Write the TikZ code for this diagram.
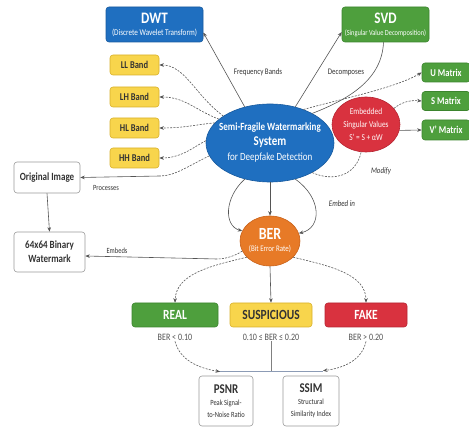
\documentclass[tikz,border=0pt]{standalone}
\usepackage{fontspec}
% narrow, tall lettering
\setmainfont{Carlito}[FakeStretch=0.82]
\usetikzlibrary{arrows.meta,shapes.geometric,calc}

\definecolor{dwtblue}{HTML}{1F6FC0}
\definecolor{dwtedge}{HTML}{175A9E}
\definecolor{svdgreen}{HTML}{4E9F3D}
\definecolor{svdedge}{HTML}{3C842E}
\definecolor{bandyellow}{HTML}{F8D54C}
\definecolor{bandedge}{HTML}{D8B02A}
\definecolor{fakered}{HTML}{D9323F}
\definecolor{fakeedge}{HTML}{B52532}
\definecolor{berorange}{HTML}{E77A27}
\definecolor{beredge}{HTML}{C9621A}
\definecolor{linegray}{HTML}{555555}
\definecolor{bracketgray}{HTML}{8C9BB5}
\definecolor{boxgray}{HTML}{9A9A9A}
\definecolor{textdark}{HTML}{333333}

\begin{document}
\begin{tikzpicture}[x=1pt,y=-1pt,
  box/.style={draw, rounded corners=3pt, line width=0.6pt, inner sep=0pt, align=center},
  bluebox/.style={box, fill=dwtblue, draw=dwtedge, text=white},
  greenbox/.style={box, fill=svdgreen, draw=svdedge, text=white},
  bandbox/.style={box, fill=bandyellow, draw=bandedge, text=textdark,
    font=\fontsize{10.4}{12}\selectfont\bfseries, minimum width=49pt, minimum height=20pt},
  matbox/.style={greenbox, font=\fontsize{10.4}{12}\selectfont\bfseries,
    minimum width=48pt, minimum height=19pt},
  plainbox/.style={box, fill=white, draw=boxgray, text=textdark},
  verdict/.style={box, minimum width=84pt, minimum height=24pt, text=white,
    font=\fontsize{14}{16}\selectfont\bfseries},
  blob/.style={ellipse, line width=0.6pt, inner sep=0pt},
  blobtext/.style={text=white, align=center, inner sep=0pt},
  plainline/.style={draw=linegray, line width=0.6pt},
  dashline/.style={plainline, dash pattern=on 2pt off 1.3pt},
  solidarr/.style={plainline, -{Stealth[length=4.5pt,width=3.6pt]}},
  dasharr/.style={solidarr, dash pattern=on 2pt off 1.3pt},
  elabel/.style={font=\fontsize{8.5}{10}\selectfont, text=textdark, inner sep=0pt},
  thresh/.style={font=\fontsize{9.8}{11}\selectfont, text=textdark!85, inner sep=1pt}
]
\useasboundingbox (0,0) rectangle (469,427);

% ---- top transforms ----
\node[bluebox, minimum width=97pt, minimum height=35pt] (dwt) at (154.5,24.5)
  {{\fontsize{16}{17}\selectfont\bfseries DWT}\\{\fontsize{8.8}{10}\selectfont (Discrete Wavelet Transform)}};
\node[greenbox, minimum width=87pt, minimum height=35pt] (svd) at (385.5,24.5)
  {{\fontsize{16}{17}\selectfont\bfseries SVD}\\{\fontsize{7.8}{10}\selectfont (Singular Value Decomposition)}};

% ---- wavelet sub-bands ----
\node[bandbox] (ll) at (134.5,65) {LL Band};
\node[bandbox] (lh) at (134.5,97) {LH Band};
\node[bandbox] (hl) at (134.5,128) {HL Band};
\node[bandbox] (hh) at (134.5,158) {HH Band};

% ---- input side ----
\node[plainbox, minimum width=66pt, minimum height=31pt,
  font=\fontsize{11}{13}\selectfont\bfseries] (orig) at (47,177.5) {Original Image};
\node[plainbox, minimum width=71pt, minimum height=40pt,
  font=\fontsize{11}{14}\selectfont\bfseries] (wm) at (49.5,252) {64x64 Binary\\Watermark};

% ---- central system ----
\node[blob, fill=dwtblue, draw=dwtedge, minimum width=128pt, minimum height=78pt] (sys) at (270,143) {};
\node[blobtext, font=\fontsize{11}{15}\selectfont] (systxt) at (sys.center)
  {{\bfseries Semi-Fragile Watermarking}\\{\fontsize{13.4}{15}\selectfont\bfseries System}\\for Deepfake Detection};

% ---- embedding in singular values ----
\node[blob, fill=fakered, draw=fakeedge, minimum width=68pt, minimum height=55pt] (emb) at (366,124.5) {};
\node[blobtext, text=white!92!pink, font=\fontsize{9}{13}\selectfont] (embtxt) at (emb.center)
  {Embedded\\Singular Values\\S' = S + αW};

\node[matbox] (um) at (446,72.5) {U Matrix};
\node[matbox] (sm) at (446,101) {S Matrix};
\node[matbox, minimum height=20pt] (vm) at (446,130) {V' Matrix};

% ---- bit error rate ----
\node[blob, fill=berorange, draw=beredge, minimum width=60pt, minimum height=50pt] (ber) at (270,241) {};
\node[blobtext] (bertxt) at (ber.center)
  {{\fontsize{17}{18}\selectfont\bfseries BER}\\{\fontsize{8.5}{10}\selectfont (Bit Error Rate)}};

% ---- verdicts ----
\node[verdict, fill=svdgreen, draw=svdedge, minimum width=86pt] (real) at (175,315) {REAL};
\node[verdict, fill=bandyellow, draw=bandedge, text=textdark, minimum width=82pt] (susp) at (271,315) {SUSPICIOUS};
\node[verdict, fill=fakered, draw=fakeedge, minimum width=82pt] (fake) at (366,315) {FAKE};

\node[thresh] (realt) at (175,337) {BER < 0.10};
\node[thresh] (suspt) at (271,337) {0.10 ≤ BER ≤ 0.20};
\node[thresh] (faket) at (366,337) {BER > 0.20};

% ---- quality metrics ----
\node[plainbox, minimum width=54pt, minimum height=50pt, text=textdark] (psnr) at (226,401)
  {{\fontsize{13.4}{14}\selectfont\bfseries PSNR}\\{\fontsize{7.9}{11}\selectfont Peak Signal-}\\{\fontsize{7.9}{11}\selectfont to-Noise Ratio}};
\node[plainbox, minimum width=56pt, minimum height=50pt, text=textdark] (ssim) at (311,401)
  {{\fontsize{13.4}{14}\selectfont\bfseries SSIM}\\{\fontsize{7.9}{11}\selectfont Structural}\\{\fontsize{7.9}{11}\selectfont Similarity Index}};

% ---- connectors from the central system ----
\draw[solidarr] (sys.125) -- ([yshift=-8pt]dwt.east);
\draw[solidarr] (sys.55) -- ([yshift=-7.5pt]svd.west);
\draw[plainline] ([xshift=-2pt]svd.south) .. controls (382,78) and (352,98) .. (sys.35);
\node[elabel] (lfreq) at (258,72) {Frequency Bands};
\node[elabel] (ldec) at (346,72) {Decomposes};

\draw[dasharr] (sys.45) .. controls (345,98) and (395,88) .. (um.west);
\draw[dasharr] (emb.30) .. controls (402,102) and (410,100) .. (sm.west);
\draw[solidarr] (emb.-10) -- (vm.west);
\draw[dashline] (sys.-35) .. controls (333,182) and (356,176) .. (emb.-100);
\node[elabel, font=\fontsize{8.5}{10}\selectfont\itshape] (lmod) at (381,171) {Modify};

\draw[dasharr] (sys.150) .. controls (195,95) and (185,65) .. (ll.east);
\draw[dasharr] (sys.155) .. controls (195,110) and (185,97) .. (lh.east);
\draw[dasharr] (sys.160) .. controls (200,124) and (185,128) .. (hl.east);
\draw[dasharr] (sys.178) .. controls (195,146) and (182,158) .. (hh.east);

\coordinate (pmid) at (160,176);
\draw[dashline] (sys.192) .. controls (188,166) and (175,176) .. (pmid);
\draw[solidarr] (pmid) -- (orig.east);
\node[elabel, font=\fontsize{7.9}{9}\selectfont] (lproc) at (106,188) {Processes};

\draw[solidarr] (orig.south) -- (wm.north);

% ---- into the bit error rate ----
\draw[solidarr] (sys.south) -- (ber.north);
\draw[solidarr] (sys.235) .. controls (224,198) and (224,226) .. (ber.160);
\draw[solidarr] (sys.-55) .. controls (322,198) and (322,228) .. (ber.15);
\node[elabel, font=\fontsize{8.5}{10}\selectfont\itshape] (lemb) at (342,204) {Embed in};

\coordinate (emid) at (217,259);
\draw[dashline] (ber.200) .. controls (235,256) and (225,259) .. (emid);
\draw[solidarr] (emid) -- ([yshift=-4pt]wm.east);
\node[elabel, font=\fontsize{7.9}{9}\selectfont] (lembeds) at (117,251) {Embeds};

% ---- verdicts ----
\draw[dasharr] (ber.215) .. controls (210,266) and (176,274) .. (real.north);
\draw[solidarr] (ber.south) -- (susp.north);
\draw[dasharr] (ber.-35) .. controls (330,266) and (366,274) .. (fake.north);

% ---- metrics ----
\coordinate (bl) at (219,371);
\coordinate (br) at (323,371);
\coordinate (bj) at (271,371);
\draw[plainline, draw=linegray!75] (suspt.south) -- (bj);
\draw[plainline, draw=bracketgray] (bl) -- (br);
\draw[dasharr] (realt.south) .. controls (180,360) and (198,368) .. ([xshift=-6pt,yshift=4pt]psnr.north);
\draw[dasharr] (faket.south) .. controls (362,360) and (344,368) .. ([xshift=12pt,yshift=5pt]ssim.north);
\end{tikzpicture}
\end{document}
